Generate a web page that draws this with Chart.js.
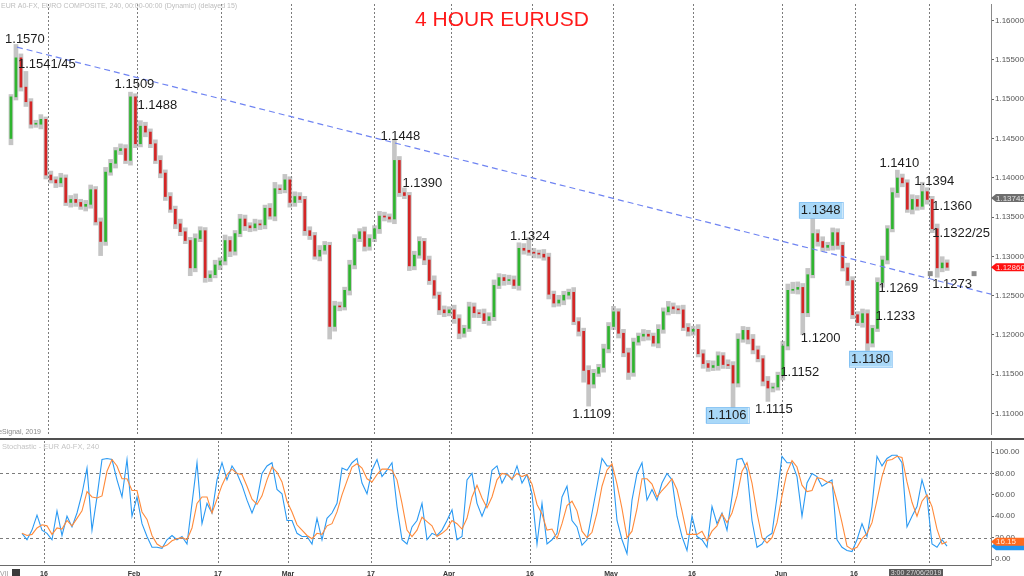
<!DOCTYPE html>
<html>
<head>
<meta charset="utf-8">
<script src="https://cdn.jsdelivr.net/npm/chart.js@4.4.1/dist/chart.umd.min.js"></script>
<style>
  html, body { margin: 0; padding: 0; background: #fff; }
  #wrap { position: relative; width: 1024px; height: 576px; overflow: hidden; }
  canvas { position: absolute; left: 0; }
  #price { top: 0; }
  #stoch { top: 438px; }
</style>
</head>
<body>
<div id="wrap">
  <canvas id="price" width="1024" height="438"></canvas>
  <canvas id="stoch" width="1024" height="138"></canvas>
</div>
<script>
const FONT = '"Liberation Sans", Arial, sans-serif';
const PIP = 0.0001;

// one candle per ~16h slice of the 4h chart, index 0 = 10 Jan
const firstOpen = 1.14500;
const closes = [
  1.15030,1.15527,1.15154,1.14968,1.14682,1.14682,1.14744,1.14035,1.13973,1.13935,
  1.13997,1.13686,1.13724,1.13686,1.13637,1.13662,1.13848,1.13438,1.13189,1.14072,
  1.14184,1.14346,1.14371,1.14221,1.15030,1.14433,1.14657,1.14582,1.14433,1.14221,
  1.14060,1.13761,1.13599,1.13413,1.13313,1.13201,1.12853,1.13226,1.13326,1.12729,
  1.12766,1.12890,1.12940,1.13201,1.13065,1.13289,1.13475,1.13388,1.13363,1.13413,
  1.13400,1.13612,1.13512,1.13861,1.13848,1.13973,1.13686,1.13761,1.13724,1.13326,
  1.13264,1.13002,1.13077,1.13139,1.12107,1.12368,1.12356,1.12567,1.12890,1.13226,
  1.13313,1.13127,1.13226,1.13351,1.13512,1.13500,1.13475,1.14221,1.13811,1.13774,
  1.12878,1.13015,1.13189,1.12953,1.12691,1.12505,1.12318,1.12281,1.12318,1.12206,
  1.12020,1.12082,1.12356,1.12281,1.12269,1.12182,1.12231,1.12629,1.12729,1.12691,
  1.12700,1.12629,1.13102,1.13077,1.13052,1.13040,1.13027,1.12990,1.12517,1.12405,
  1.12443,1.12505,1.12542,1.12169,1.12045,1.11547,1.11373,1.11510,1.11585,1.11821,
  1.12107,1.12293,1.12020,1.11771,1.11522,1.11908,1.11983,1.12008,1.11983,1.11895,
  1.12070,1.12293,1.12356,1.12331,1.12318,1.12094,1.12045,1.12070,1.11759,1.11634,
  1.11585,1.11609,1.11734,1.11622,1.11609,1.11386,1.11945,1.12057,1.11945,1.11808,
  1.11696,1.11410,1.11323,1.11336,1.11485,1.11858,1.12567,1.12580,1.12604,1.12281,
  1.12766,1.13289,1.13189,1.13114,1.13139,1.13301,1.13139,1.12853,1.12691,1.12256,
  1.12157,1.12269,1.11895,1.12082,1.12667,1.12953,1.13351,1.13811,1.13997,1.13935,
  1.13599,1.13724,1.13637,1.13823,1.13724,1.13351,1.12853,1.12915,1.12860
];
// wick lengths beyond the body, in pips
const wickUp = [
  3,17,5,20,4,5,6,3,5,4,  6,4,5,7,4,5,6,4,5,6,  5,4,6,5,6,4,7,5,4,5,  6,4,5,4,6,5,4,6,5,4,
  5,6,4,7,5,4,6,5,4,6,  5,4,6,8,5,7,4,6,5,4,  5,4,6,5,4,6,5,4,6,5,  4,6,5,4,6,5,4,26,5,6,
  4,5,6,4,5,6,4,5,4,6,  5,4,6,5,4,6,5,7,5,4,  6,5,7,6,16,5,4,6,5,4,  6,5,4,6,5,4,6,5,4,6,
  5,7,4,5,6,5,4,6,5,4,  6,5,7,5,4,6,5,4,6,5,  4,6,5,4,6,5,7,5,4,6,  5,4,6,5,4,6,8,9,7,5,
  8,19,5,6,4,6,5,4,6,5,  4,6,5,4,6,5,4,6,10,5,  4,6,5,12,5,4,6,8,4
];
const wickDn = [
  8,4,5,6,5,4,6,5,4,6,  5,4,6,5,4,6,5,4,18,5,  4,6,5,4,6,5,4,6,5,4,  6,5,4,6,5,4,10,5,4,6,
  5,4,6,5,7,5,4,6,5,4,  6,5,4,6,5,4,6,5,4,6,  5,4,6,5,16,6,5,4,6,5,  4,6,5,4,6,5,4,6,5,4,
  6,5,4,6,5,4,6,5,4,6,  7,5,4,6,5,4,6,5,4,6,  5,4,6,5,4,6,5,4,6,5,  4,6,5,4,6,15,28,5,4,6,
  5,4,6,5,9,5,4,6,5,4,  6,5,4,6,5,4,6,5,4,6,  5,4,6,5,4,33,5,4,6,5,  4,6,17,5,4,6,5,4,6,28,
  5,4,6,5,4,6,5,4,6,5,  4,6,10,5,4,6,5,4,6,5,  4,6,5,4,6,5,12,5,4
];

const stochK = [
  null,null,null,24,18,27,41,27,24,18,  45,22,40,30,43,61,85,27,58,93,
  94,93,74,58,93,40,58,33,21,11,  11,10,18,22,18,21,14,52,90,33,
  52,43,74,90,74,87,80,69,55,43,  55,80,87,90,65,61,36,36,24,21,
  21,14,38,18,38,43,52,85,83,90,  94,71,61,83,93,77,83,90,49,18,
  14,30,36,52,18,24,22,27,36,46,  18,21,74,80,52,40,52,83,87,71,
  80,74,87,71,79,61,14,52,14,18,  24,58,68,36,30,13,18,43,68,94,
  87,87,36,18,5,55,80,90,55,65,  55,71,80,74,40,21,8,40,21,18,
  11,49,33,43,27,58,93,94,83,36,  11,14,21,24,58,96,90,90,77,40,
  71,80,77,68,71,74,18,11,8,7,  18,33,21,49,96,87,94,97,97,90,
  30,40,49,74,58,14,11,18,12
];
const stochD = [
  null,null,null,24,22,23,29,32,31,23,  29,28,36,31,38,45,63,58,57,59,
  82,93,87,75,75,64,64,44,37,22,  14,11,13,17,19,20,18,29,52,58,
  58,43,56,69,79,84,80,79,68,56,  51,59,74,86,81,72,54,44,32,27,
  22,19,24,23,31,33,44,60,73,86,  89,85,75,72,79,84,84,83,74,52,
  27,21,27,39,35,31,21,24,28,36,  33,28,38,58,69,57,48,58,74,80,
  79,75,80,77,79,70,51,42,27,28,  19,33,50,54,45,26,20,25,43,68,
  83,89,70,47,20,26,47,75,75,70,  58,64,69,75,65,45,23,23,23,26,
  17,26,31,42,34,43,59,82,90,71,  43,20,15,20,34,59,81,92,86,69,
  63,64,76,75,72,71,54,34,12,9,  11,19,24,34,55,77,92,93,96,95,
  72,53,40,54,60,49,28,14,16.15
];

const priceTicks = [1.110,1.115,1.120,1.125,1.130,1.135,1.140,1.145,1.150,1.155,1.160];
const stochTicks = [0,20,40,60,80,100];
const dateTicks  = [7.4, 25.4, 42.2, 56.2, 72.8, 88.4, 104.6, 120.8, 137, 154.8, 169.4];
const dateLabels = ['16','Feb','17','Mar','17','Apr','16','May','16','Jun','16'];
const cursorX = 184.4;
const cursorLabel = '3:00 27/06/2019';

const trendX = [1.2, 196.8];
const trendY = [1.15664, 1.12517];
const markX = [184.6, 193.4];
const markY = [1.12779, 1.12779];

const noteText = ['1.1570','1.1541/45','1.1509','1.1488','1.1448','1.1390','1.1324','1.1348','1.1410','1.1394',
                  '1.1360','1.1322/25','1.1273','1.1269','1.1233','1.1200','1.1180','1.1152','1.1109','1.1106','1.1115'];
const noteX = [2.8, 7.2, 24.8, 29.4, 78.2, 82.6, 104.2, 162.6, 178.4, 185.4,
               189, 190.8, 189, 178.2, 177.6, 162.6, 172.6, 158.4, 116.6, 143.8, 153.2];
const noteY = [1.15764, 1.15453, 1.15192, 1.14930, 1.14532, 1.13935, 1.13264, 1.13587, 1.14184, 1.13960,
               1.13637, 1.13301, 1.12654, 1.12592, 1.12244, 1.11958, 1.11697, 1.11522, 1.10999, 1.10975, 1.11062];
const boxedNotes = ['1.1348', '1.1180', '1.1106'];
const quoteGrey = 1.13742;

const X_MIN = -1.4, X_MAX = 196.8;

const opens = closes.map((c, i) => i === 0 ? firstOpen : closes[i - 1]);
const bodies = closes.map((c, i) => ({ x: i, y: [opens[i], c] }));
const wicks = closes.map((c, i) => ({
  x: i,
  y: [Math.min(opens[i], c) - wickDn[i] * PIP, Math.max(opens[i], c) + wickUp[i] * PIP]
}));
const bodyColors = closes.map((c, i) => c >= opens[i] ? '#2fb52f' : '#d42626');

function fixAxis(s) {
  s.width = 33;
  s.paddingTop = 0;
  s.paddingBottom = 0;
}

function tag(ctx, area, w, yPx, text, bg, fg) {
  ctx.fillStyle = bg;
  ctx.beginPath();
  ctx.moveTo(area.right, yPx);
  ctx.lineTo(area.right + 5, yPx - 4);
  ctx.lineTo(w, yPx - 4);
  ctx.lineTo(w, yPx + 4);
  ctx.lineTo(area.right + 5, yPx + 4);
  ctx.closePath();
  ctx.fill();
  if (text) {
    ctx.fillStyle = fg;
    ctx.font = '8px ' + FONT;
    ctx.textAlign = 'left';
    ctx.textBaseline = 'middle';
    ctx.fillText(text, area.right + 5, yPx + 0.5);
  }
}

function vLines(chart) {
  const { ctx, chartArea: a, scales: { x } } = chart;
  ctx.save();
  ctx.strokeStyle = '#7c7c7c';
  ctx.lineWidth = 1;
  ctx.setLineDash([2, 2]);
  [...dateTicks, cursorX].forEach(v => {
    const px = Math.round(x.getPixelForValue(v)) + 0.5;
    ctx.beginPath();
    ctx.moveTo(px, a.top);
    ctx.lineTo(px, a.bottom);
    ctx.stroke();
  });
  ctx.restore();
}

const priceDecor = {
  id: 'priceDecor',
  beforeDatasetsDraw(chart) { vLines(chart); },
  afterDraw(chart) {
    const { ctx, chartArea: a, scales: { x, y } } = chart;
    ctx.save();

    ctx.font = '7px ' + FONT;
    ctx.fillStyle = '#bdbdbd';
    ctx.textAlign = 'left';
    ctx.textBaseline = 'middle';
    ctx.fillText('EUR A0-FX, EURO COMPOSITE, 240, 00:00-00:00 (Dynamic) (delayed 15)', 1, 6);

    ctx.fillStyle = '#8a8a8a';
    ctx.textAlign = 'right';
    ctx.fillText('\u00A9 eSignal, 2019', 41, 432);

    ctx.font = '21px ' + FONT;
    ctx.fillStyle = '#ff1a1a';
    ctx.textAlign = 'center';
    ctx.fillText('4 HOUR EURUSD', 502, 20);

    ctx.font = '13px ' + FONT;
    noteText.forEach((t, k) => {
      const px = x.getPixelForValue(noteX[k]);
      const py = y.getPixelForValue(noteY[k]);
      if (boxedNotes.includes(t)) {
        const w = ctx.measureText(t).width + 4;
        ctx.fillStyle = '#a9d8f8';
        ctx.fillRect(px - w / 2, py - 8, w, 16);
        ctx.strokeStyle = '#56a8ef';
        ctx.setLineDash([1, 1]);
        ctx.lineWidth = 1;
        ctx.strokeRect(Math.round(px - w / 2) + 0.5, Math.round(py - 8) + 0.5, Math.round(w), 16);
        ctx.setLineDash([]);
      }
      ctx.fillStyle = '#1c1c1c';
      ctx.fillText(t, px, py + 0.5);
    });

    tag(ctx, a, chart.width, y.getPixelForValue(quoteGrey), quoteGrey.toFixed(5), '#6e6e6e', '#e4e4e4');
    tag(ctx, a, chart.width, y.getPixelForValue(closes[closes.length - 1]),
        closes[closes.length - 1].toFixed(5), '#ff1010', '#ffe0e0');
    ctx.restore();
  }
};

new Chart(document.getElementById('price'), {
  type: 'bar',
  data: {
    datasets: [
      { type: 'line', data: trendX.map((v, k) => ({ x: v, y: trendY[k] })),
        borderColor: '#6f84f2', borderWidth: 1.2, borderDash: [6, 4], pointRadius: 0, order: 0 },
      { type: 'line', data: markX.map((v, k) => ({ x: v, y: markY[k] })), showLine: false,
        pointStyle: 'rect', pointRadius: 3.5, backgroundColor: '#8c8c8c', borderWidth: 0, order: 1 },
      { data: bodies, backgroundColor: bodyColors, barThickness: 2, grouped: false,
        minBarLength: 1, borderWidth: 0, order: 2 },
      { data: wicks, backgroundColor: 'rgba(140,140,140,0.5)', barThickness: 4, grouped: false,
        borderWidth: 0, order: 3 }
    ]
  },
  options: {
    responsive: false,
    animation: false,
    events: [],
    layout: { padding: 0 },
    plugins: { legend: { display: false }, tooltip: { enabled: false } },
    scales: {
      x: { type: 'linear', min: X_MIN, max: X_MAX, display: false, offset: false },
      y: {
        position: 'right',
        min: 1.107375,
        max: 1.162125,
        afterBuildTicks: s => { s.ticks = priceTicks.map(v => ({ value: v })); },
        afterFit: fixAxis,
        ticks: { callback: v => v.toFixed(5), color: '#555', padding: 1, font: { size: 8, family: FONT } },
        grid: { drawOnChartArea: false, drawTicks: true, tickLength: 3, tickColor: '#666' },
        border: { display: true, color: '#8a8a8a' }
      }
    }
  },
  plugins: [priceDecor]
});

const stochDecor = {
  id: 'stochDecor',
  beforeDatasetsDraw(chart) {
    vLines(chart);
    const { ctx, chartArea: a, scales: { y } } = chart;
    ctx.save();
    ctx.strokeStyle = '#7c7c7c';
    ctx.setLineDash([3, 3]);
    [20, 80].forEach(v => {
      const py = Math.round(y.getPixelForValue(v)) + 0.5;
      ctx.beginPath();
      ctx.moveTo(a.left, py);
      ctx.lineTo(a.right, py);
      ctx.stroke();
    });
    ctx.restore();
  },
  afterDraw(chart) {
    const { ctx, chartArea: a, scales: { x, y } } = chart;
    ctx.save();
    ctx.fillStyle = '#505050';
    ctx.fillRect(0, 0, chart.width, 2);
    ctx.fillStyle = '#6a6a6a';
    ctx.fillRect(0, a.bottom, a.right, 1);

    ctx.font = '7.5px ' + FONT;
    ctx.fillStyle = '#c4c4c4';
    ctx.textAlign = 'left';
    ctx.textBaseline = 'middle';
    ctx.fillText('Stochastic - EUR A0-FX, 240', 2, 9);

    ctx.font = 'bold 7px ' + FONT;
    ctx.fillStyle = '#333';
    ctx.textAlign = 'center';
    ctx.textBaseline = 'top';
    dateTicks.forEach((v, k) => ctx.fillText(dateLabels[k], x.getPixelForValue(v), a.bottom + 6));

    const cx = x.getPixelForValue(cursorX);
    ctx.fillStyle = '#5a5a5a';
    ctx.fillRect(cx - 40, a.bottom + 4, 54, 8);
    ctx.font = '7px ' + FONT;
    ctx.fillStyle = '#dcdcdc';
    ctx.fillText(cursorLabel, cx - 13, a.bottom + 5);

    ctx.textAlign = 'left';
    ctx.fillStyle = '#999';
    ctx.fillText('VII', 0, a.bottom + 6);
    ctx.fillStyle = '#3a3a3a';
    ctx.fillRect(12, a.bottom + 4, 8, 8);

    const lastK = stochK[stochK.length - 1];
    const lastD = stochD[stochD.length - 1];
    tag(ctx, a, chart.width, y.getPixelForValue(lastK), '', '#2196f3', '#fff');
    tag(ctx, a, chart.width, y.getPixelForValue(lastD), lastD.toFixed(2), '#ff6a1f', '#ffe8d8');
    ctx.restore();
  }
};

new Chart(document.getElementById('stoch'), {
  type: 'line',
  data: {
    datasets: [
      { data: stochD.map((v, i) => ({ x: i, y: v })), borderColor: '#ff8a3a', borderWidth: 1.1,
        pointRadius: 0, order: 0 },
      { data: stochK.map((v, i) => ({ x: i, y: v })), borderColor: '#2b9af3', borderWidth: 1.1,
        pointRadius: 0, order: 1 }
    ]
  },
  options: {
    responsive: false,
    animation: false,
    events: [],
    layout: { padding: { top: 3, bottom: 11, left: 0, right: 0 } },
    plugins: { legend: { display: false }, tooltip: { enabled: false } },
    scales: {
      x: { type: 'linear', min: X_MIN, max: X_MAX, display: false, offset: false },
      y: {
        position: 'right',
        min: -5.6,
        max: 110.3,
        afterBuildTicks: s => { s.ticks = stochTicks.map(v => ({ value: v })); },
        afterFit: fixAxis,
        ticks: { callback: v => v.toFixed(2), color: '#555', padding: 1, font: { size: 8, family: FONT } },
        grid: { drawOnChartArea: false, drawTicks: true, tickLength: 3, tickColor: '#666' },
        border: { display: true, color: '#8a8a8a' }
      }
    }
  },
  plugins: [stochDecor]
});
</script>
</body>
</html>
